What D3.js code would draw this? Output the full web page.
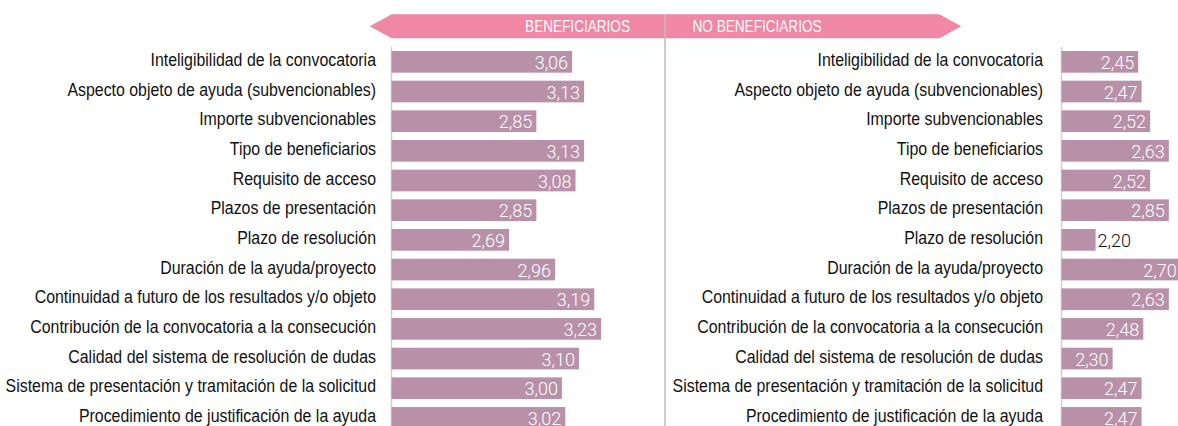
<!DOCTYPE html>
<html>
<head>
<meta charset="utf-8">
<script src="https://cdn.jsdelivr.net/npm/d3@7"></script>
<style>
  html, body { margin: 0; padding: 0; background: #fff; }
  svg { display: block; }
</style>
</head>
<body>
<div id="chart"></div>
<script>
// criteria, same order on both sides
const criteria = [
  'Inteligibilidad de la convocatoria',
  'Aspecto objeto de ayuda (subvencionables)',
  'Importe subvencionables',
  'Tipo de beneficiarios',
  'Requisito de acceso',
  'Plazos de presentación',
  'Plazo de resolución',
  'Duración de la ayuda/proyecto',
  'Continuidad a futuro de los resultados y/o objeto',
  'Contribución de la convocatoria a la consecución',
  'Calidad del sistema de resolución de dudas',
  'Sistema de presentación y tramitación de la solicitud',
  'Procedimiento de justificación de la ayuda'
];

const benefValues = [3.06, 3.13, 2.85, 3.13, 3.08, 2.85, 2.69, 2.96, 3.19, 3.23, 3.10, 3.00, 3.02];

// bar lengths as drawn in the source; "Plazos de presentación" bar is drawn
// shorter than its printed value (2,85)
const noBenefValues = [2.45, 2.47, 2.52, 2.63, 2.52, 2.63, 2.20, 2.70, 2.63, 2.48, 2.30, 2.47, 2.47];
const noBenefLabels = ['2,45', '2,47', '2,52', '2,63', '2,52', '2,85', '2,20', '2,70', '2,63', '2,48', '2,30', '2,47', '2,47'];

const groupNames = ['BENEFICIARIOS', 'NO BENEFICIARIOS'];

const W = 1178, H = 426;
const barColor = '#b891a9';
const bannerColor = '#ef87a5';
// no condensed face installed, so squeeze a regular one horizontally
const labelFont = '"Liberation Sans", Arial, sans-serif';
const labelSX = 0.86;
const valueFont = 'Roboto, "Liberation Sans", sans-serif';
const valueSX = 0.95;
const fmt = v => d3.format('.2f')(v).replace('.', ',');

const svg = d3.select('#chart').append('svg')
  .attr('width', W)
  .attr('height', H);

const y = d3.scaleBand()
  .domain(criteria)
  .range([47, 47 + 13 * 29.67])
  .paddingInner(0.27)
  .paddingOuter(0.135);

const pxPerUnit = 170.4;
const panels = [
  { x0: 391.5, labelRight: 376, values: benefValues, labels: benefValues.map(fmt) },
  { x0: 1061.5, labelRight: 1043, values: noBenefValues, labels: noBenefLabels }
];

// header banner
const bL = 391.7, bR = 939.3, bTop = 14.3, bBot = 38.3, tip = 22;
const bMid = (bTop + bBot) / 2;
svg.append('polygon')
  .attr('points', [
    [bL - tip, bMid], [bL, bTop], [bR, bTop], [bR + tip, bMid], [bR, bBot], [bL, bBot]
  ].map(p => p.join(',')).join(' '))
  .attr('fill', bannerColor);

const divX = 665;
svg.append('text')
  .attr('transform', `translate(630,${bMid}) scale(0.8,1)`)
  .attr('dy', '0.36em')
  .attr('text-anchor', 'end')
  .attr('font-family', labelFont)
  .attr('font-size', '17px')
  .attr('fill', '#fff')
  .text(groupNames[0]);
svg.append('text')
  .attr('transform', `translate(692.5,${bMid}) scale(0.8,1)`)
  .attr('dy', '0.36em')
  .attr('text-anchor', 'start')
  .attr('font-family', labelFont)
  .attr('font-size', '17px')
  .attr('fill', '#fff')
  .text(groupNames[1]);

// centre divider
svg.append('line')
  .attr('x1', divX).attr('x2', divX)
  .attr('y1', bTop).attr('y2', H)
  .attr('stroke', '#bdbdbd')
  .attr('stroke-width', 1.5);

panels.forEach(p => {
  const x = d3.scaleLinear()
    .domain([2, 3.5])
    .range([p.x0, p.x0 + 1.5 * pxPerUnit]);

  const g = svg.append('g');

  // baseline
  g.append('line')
    .attr('x1', x(2)).attr('x2', x(2))
    .attr('y1', y.range()[0]).attr('y2', H)
    .attr('stroke', '#d0d0d0')
    .attr('stroke-width', 1.5);

  // category labels, sitting a little above the bar centre
  g.append('g')
    .selectAll('text')
    .data(criteria)
    .join('text')
      .attr('transform', d => `translate(${p.labelRight},${y(d) + y.bandwidth() / 2}) scale(${labelSX},1)`)
      .attr('dy', '0.22em')
      .attr('text-anchor', 'end')
      .attr('font-family', labelFont)
      .attr('font-size', '18.5px')
      .attr('fill', '#111')
      .text(d => d);

  const rows = criteria.map((c, i) => ({ c, v: p.values[i], label: p.labels[i] }));

  g.append('g')
    .selectAll('rect')
    .data(rows)
    .join('rect')
      .attr('x', x(2))
      .attr('y', d => y(d.c))
      .attr('width', d => x(d.v) - x(2))
      .attr('height', y.bandwidth())
      .attr('fill', barColor);

  g.append('g')
    .selectAll('text')
    .data(rows)
    .join('text')
      .attr('dy', '0.37em')
      .attr('font-family', valueFont)
      .attr('font-weight', 300)
      .attr('font-size', '19px')
      .text(d => d.label)
      .each(function(d) {
        const t = d3.select(this);
        const w = this.getComputedTextLength() * valueSX;
        const barW = x(d.v) - x(2);
        const cy = y(d.c) + y.bandwidth() / 2;
        if (barW > w + 6) {
          t.attr('transform', `translate(${x(d.v) - 4},${cy}) scale(${valueSX},1)`)
            .attr('text-anchor', 'end').attr('fill', '#fff');
        } else {
          t.attr('transform', `translate(${x(d.v) + 2},${cy}) scale(${valueSX},1)`)
            .attr('text-anchor', 'start').attr('fill', '#111');
        }
      });
});
</script>
</body>
</html>
